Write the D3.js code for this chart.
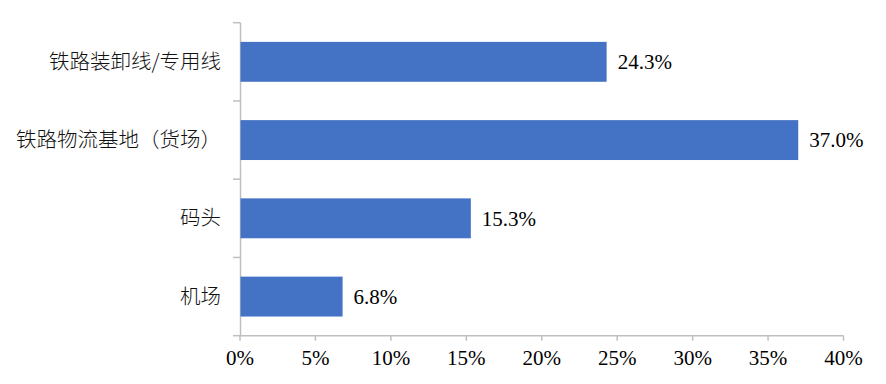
<!DOCTYPE html>
<head>
  <meta charset="utf-8">
  <script src="https://d3js.org/d3.v7.min.js"></script>
  <style>
    body { margin: 0; background: #fff; }
    .cat { font: 300 20.5px "Noto Sans CJK SC", sans-serif; fill: #111; }
    .num { font: 21px "Liberation Serif", "Times New Roman", serif; fill: #000; }
  </style>
</head>
<body>
<script>
  // data
  var categories = ["铁路装卸线/专用线", "铁路物流基地（货场）", "码头", "机场"];
  var shares = [24.3, 37.0, 15.3, 6.8];
  var xTicks = [0, 5, 10, 15, 20, 25, 30, 35, 40];

  var margin = {top: 22.7, right: 42, bottom: 48.3, left: 240};
  var width = 886 - margin.left - margin.right;
  var height = 384 - margin.top - margin.bottom;

  var svg = d3.select("body").append("svg")
      .attr("width", 886)
      .attr("height", 384)
    .append("g")
      .attr("transform", "translate(" + margin.left + "," + margin.top + ")");

  var x = d3.scaleLinear().domain([0, 40]).range([0, 603.5]);
  var y = d3.scaleBand().domain(categories).range([0, height])
      .paddingInner(0.49).paddingOuter(0.245);
  var step = y.step();

  // y axis line + category boundary ticks
  svg.append("line")
      .attr("x1", 0.5).attr("x2", 0.5)
      .attr("y1", 0).attr("y2", height)
      .attr("stroke", "#bfbfbf").attr("stroke-width", 1.5);
  svg.selectAll(".ytick")
      .data(d3.range(categories.length + 1))
    .enter().append("line")
      .attr("x1", -7).attr("x2", 0.5)
      .attr("y1", function(i) { return i * step; })
      .attr("y2", function(i) { return i * step; })
      .attr("stroke", "#bfbfbf").attr("stroke-width", 1.5);

  // x axis
  svg.append("line")
      .attr("x1", 0).attr("x2", x(40))
      .attr("y1", height).attr("y2", height)
      .attr("stroke", "#bfbfbf").attr("stroke-width", 1.5);
  svg.selectAll(".xtick")
      .data(xTicks)
    .enter().append("line")
      .attr("x1", function(d) { return x(d); })
      .attr("x2", function(d) { return x(d); })
      .attr("y1", height).attr("y2", height + 5)
      .attr("stroke", "#bfbfbf").attr("stroke-width", 1.5);
  svg.selectAll(".xlab")
      .data(xTicks)
    .enter().append("text")
      .attr("class", "num")
      .attr("text-anchor", "middle")
      .attr("x", function(d) { return x(d); })
      .attr("y", height + 29.5)
      .text(function(d) { return d + "%"; });

  // bars
  svg.selectAll(".bar")
      .data(shares)
    .enter().append("rect")
      .attr("x", 0.5)
      .attr("y", function(d, i) { return y(categories[i]); })
      .attr("height", y.bandwidth())
      .attr("width", function(d) { return x(d) - 0.5; })
      .attr("fill", "#4472c4");

  // value labels
  svg.selectAll(".val")
      .data(shares)
    .enter().append("text")
      .attr("class", "num")
      .attr("x", function(d) { return x(d) + 11; })
      .attr("y", function(d, i) { return y(categories[i]) + y.bandwidth() / 2; })
      .attr("dy", "0.35em")
      .text(function(d) { return d.toFixed(1) + "%"; });

  // category labels
  svg.selectAll(".cat")
      .data(categories)
    .enter().append("text")
      .attr("class", "cat")
      .attr("text-anchor", "end")
      .attr("x", -19)
      .attr("y", function(d) { return y(d) + y.bandwidth() / 2; })
      .attr("dy", "0.35em")
      .text(function(d) { return d; });
</script>
</body>
